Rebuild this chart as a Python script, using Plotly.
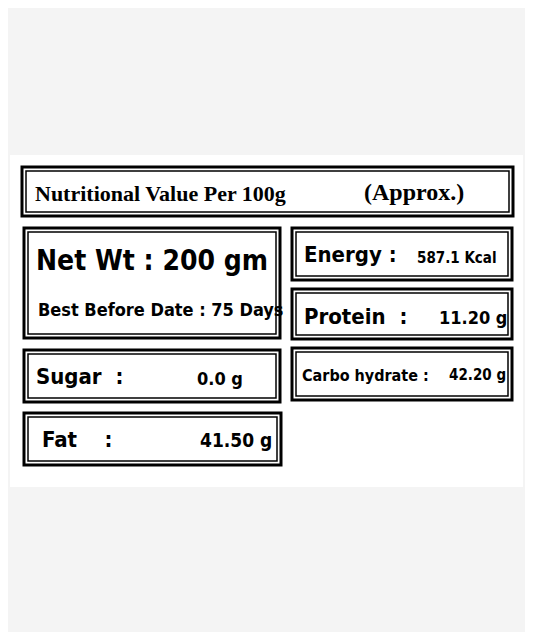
import plotly.graph_objects as go

# boxes: x0, y0, x1, y1 (pixel-like units)
box_names = ["title", "netwt", "energy", "protein", "carbo", "sugar", "fat"]
box_x0 = [22, 24, 292, 292, 292, 24, 24]
box_y0 = [167, 228, 228, 289, 348, 350, 413]
box_x1 = [513, 280, 512, 512, 512, 280, 281]
box_y1 = [216, 338, 280, 339, 400, 402, 465]

# text items
texts = ["Nutritional Value Per 100g", "(Approx.)",
         "Net Wt : 200 gm", "Best Before Date : 75 Days",
         "Energy :", "587.1 Kcal",
         "Protein  :", "11.20 g",
         "Carbo hydrate :", "42.20 g",
         "Sugar  :", "0.0 g",
         "Fat    :", "41.50 g"]
text_x = [33, 362, 34, 36, 302, 415, 302, 437, 300, 447, 34, 195, 40, 198]
text_y = [193, 192, 260, 309, 254, 258, 316, 317, 375, 375, 376, 378, 439, 440]
text_size = [22, 24, 28, 18, 22, 15, 22, 18, 16, 15, 22, 18, 22, 19]
serif = "Liberation Serif"
cond = "DejaVu Sans Condensed"
text_font = [serif, serif, cond, cond, cond, cond, cond, cond,
             cond, cond, cond, cond, cond, cond]

fig = go.Figure()

# white panel
fig.add_shape(type="rect", x0=10, y0=155, x1=523, y1=487,
              fillcolor="white", line_width=0, layer="below")

for x0, y0, x1, y1 in zip(box_x0, box_y0, box_x1, box_y1):
    fig.add_shape(type="rect", x0=x0, y0=y0, x1=x1, y1=y1,
                  line=dict(color="black", width=3))
    fig.add_shape(type="rect", x0=x0 + 4, y0=y0 + 4, x1=x1 - 4, y1=y1 - 4,
                  line=dict(color="black", width=1.5))

for t, x, y, s, f in zip(texts, text_x, text_y, text_size, text_font):
    fig.add_annotation(x=x, y=y, text="<b>" + t + "</b>", showarrow=False,
                       xanchor="left", yanchor="middle",
                       font=dict(family=f, size=s, color="black"))

fig.update_xaxes(range=[8, 525], visible=False)
fig.update_yaxes(range=[632, 8], visible=False)
fig.update_layout(width=517, height=624, margin=dict(l=0, r=0, t=0, b=0),
                  paper_bgcolor="#f4f4f4", plot_bgcolor="#f4f4f4",
                  showlegend=False)
fig.write_html("out.html")
